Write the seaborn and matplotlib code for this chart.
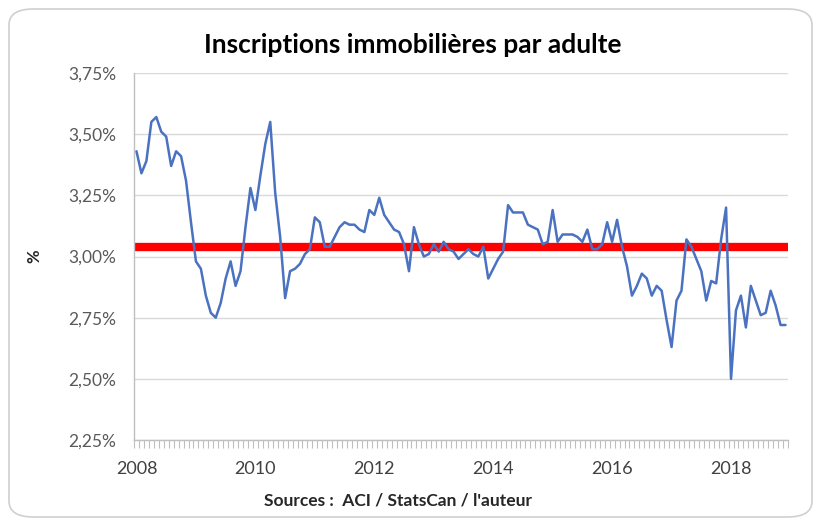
import numpy as np
import pandas as pd
import seaborn as sns
from matplotlib import pyplot as plt
from matplotlib.patches import FancyBboxPatch
from matplotlib.ticker import FuncFormatter

# Inscriptions par adulte (%), valeurs mensuelles
v2008 = [3.43, 3.34, 3.39, 3.55, 3.57, 3.51, 3.49, 3.37, 3.43, 3.41, 3.31, 3.14]
v2009 = [2.98, 2.95, 2.84, 2.77, 2.75, 2.81, 2.91, 2.98, 2.88, 2.94, 3.12, 3.28]
v2010 = [3.19, 3.33, 3.46, 3.55, 3.26, 3.08, 2.83, 2.94, 2.95, 2.97, 3.01, 3.03]
v2011 = [3.16, 3.14, 3.04, 3.04, 3.08, 3.12, 3.14, 3.13, 3.13, 3.11, 3.10, 3.19]
v2012 = [3.17, 3.24, 3.17, 3.14, 3.11, 3.10, 3.05, 2.94, 3.12, 3.05, 3.00, 3.01]
v2013 = [3.05, 3.02, 3.06, 3.03, 3.02, 2.99, 3.01, 3.03, 3.01, 3.00, 3.04, 2.91]
v2014 = [2.95, 2.99, 3.02, 3.21, 3.18, 3.18, 3.18, 3.13, 3.12, 3.11, 3.05, 3.06]
v2015 = [3.19, 3.06, 3.09, 3.09, 3.09, 3.08, 3.06, 3.11, 3.03, 3.03, 3.05, 3.14]
v2016 = [3.06, 3.15, 3.04, 2.96, 2.84, 2.88, 2.93, 2.91, 2.84, 2.88, 2.86, 2.74]
v2017 = [2.63, 2.82, 2.86, 3.07, 3.04, 2.99, 2.94, 2.82, 2.90, 2.89, 3.07, 3.20]
v2018 = [2.50, 2.78, 2.84, 2.71, 2.88, 2.82, 2.76, 2.77, 2.86, 2.80, 2.72, 2.72]
annees = list(range(2008, 2019))
moyenne = 3.04

valeurs = v2008 + v2009 + v2010 + v2011 + v2012 + v2013 + v2014 + v2015 + v2016 + v2017 + v2018
df = pd.DataFrame({'mois': np.arange(len(valeurs)), 'taux': valeurs})

sns.set_theme(style='white')
plt.rcParams['font.family'] = ['Lato', 'DejaVu Sans']

fig = plt.figure(figsize=(8.21, 5.25), dpi=100)
ax = fig.add_axes([134 / 821, 1 - 440 / 525, (788 - 134) / 821, (440 - 73) / 525])

# cadre arrondi autour du graphique
fig.patches.append(FancyBboxPatch((9 / 821, 8 / 525), 803 / 821, 508 / 525,
                                  boxstyle='round,pad=0,rounding_size=0.03',
                                  transform=fig.transFigure, fill=False,
                                  edgecolor='#d0d0d0', lw=1.2))

ax.axhline(moyenne, color='#ff0000', lw=6, solid_capstyle='butt', zorder=2)
sns.lineplot(data=df, x='mois', y='taux', ax=ax, color='#4a72c0', lw=1.8, zorder=3)

ax.set_ylim(2.25, 3.75)
ax.set_yticks(np.arange(2.25, 3.76, 0.25))
ax.yaxis.set_major_formatter(FuncFormatter(lambda v, p: f'{v:.2f}%'.replace('.', ',')))
ax.set_xlim(-0.5, len(valeurs) - 0.5)
ax.set_xticks([12 * (a - 2008) for a in annees[::2]])
ax.set_xticklabels([str(a) for a in annees[::2]])
ax.set_xticks(np.arange(-0.5, len(valeurs), 1), minor=True)

ax.grid(axis='y', color='#d9d9d9', lw=1)
for s in ['top', 'right']:
    ax.spines[s].set_visible(False)
for s in ['left', 'bottom']:
    ax.spines[s].set_color('#bfbfbf')
    ax.spines[s].set_linewidth(1)

ax.tick_params(axis='y', which='major', length=6, color='#bfbfbf', direction='out',
               labelsize=12.5, labelcolor='#595959', pad=7)
ax.tick_params(axis='x', which='major', length=0, labelsize=13, labelcolor='#404040', pad=15)
ax.tick_params(axis='x', which='minor', length=6, color='#bfbfbf', width=0.8, direction='out', bottom=True)

ax.set_xlabel('')
ax.set_ylabel('%', fontsize=12, fontweight='bold', color='#262626', labelpad=18)
fig.text(413 / 821, 1 - 45 / 525, 'Inscriptions immobilières par adulte', ha='center', va='center',
         fontsize=19, fontweight='bold', color='#000000')
fig.text(398 / 821, 1 - 501 / 525, "Sources :  ACI / StatsCan / l'auteur", ha='center', va='center',
         fontsize=12.5, fontweight='bold', color='#262626')

fig.savefig('out.png', dpi=100)
